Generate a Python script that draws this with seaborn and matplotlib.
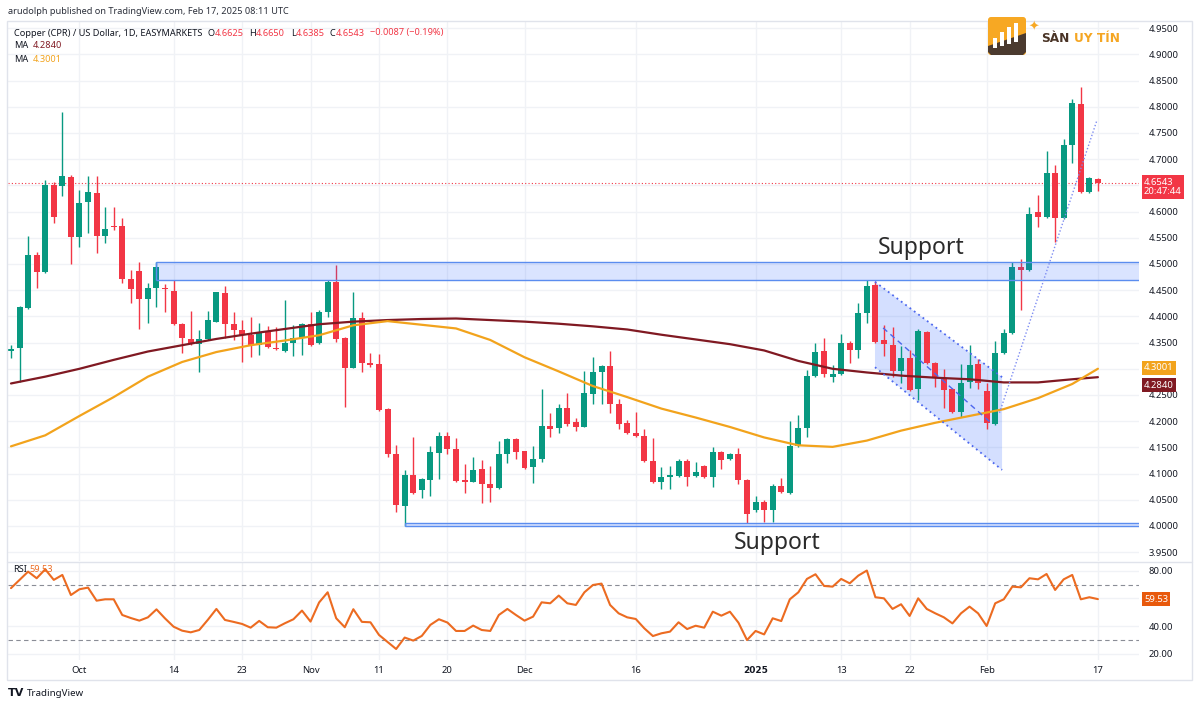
import numpy as np
import pandas as pd
import matplotlib
matplotlib.use("Agg")
import matplotlib.pyplot as plt
import matplotlib.transforms as mtransforms
from matplotlib.patches import Rectangle, Polygon, FancyBboxPatch
import seaborn as sns

## data (daily candles, index 0 = first visible bar)
opens = [4.334, 4.340, 4.416, 4.517, 4.485, 4.651, 4.649, 4.666, 4.552, 4.618,
         4.635, 4.553, 4.573, 4.573, 4.471, 4.487, 4.433, 4.454, 4.454, 4.448,
         4.385, 4.357, 4.347, 4.357, 4.389, 4.445, 4.385, 4.374, 4.364, 4.345,
         4.370, 4.340, 4.334, 4.349, 4.359, 4.385, 4.349, 4.408, 4.466, 4.359,
         4.302, 4.397, 4.311, 4.309, 4.223, 4.137, 4.038, 4.097, 4.069, 4.088,
         4.139, 4.172, 4.147, 4.088, 4.084, 4.109, 4.080, 4.073, 4.137, 4.166,
         4.143, 4.113, 4.128, 4.191, 4.187, 4.225, 4.198, 4.189, 4.252, 4.294,
         4.305, 4.233, 4.197, 4.177, 4.172, 4.124, 4.084, 4.094, 4.095, 4.124,
         4.095, 4.115, 4.094, 4.141, 4.128, 4.137, 4.088, 4.031, 4.046, 4.031,
         4.076, 4.063, 4.153, 4.187, 4.286, 4.334, 4.284, 4.290, 4.349, 4.336,
         4.406, 4.460, 4.355, 4.345, 4.296, 4.321, 4.261, 4.370, 4.311, 4.282,
         4.261, 4.218, 4.275, 4.309, 4.258, 4.195, 4.330, 4.368, 4.494, 4.489,
         4.599, 4.590, 4.674, 4.588, 4.727, 4.805, 4.637, 4.6625]
highs = [4.345, 4.420, 4.553, 4.523, 4.660, 4.656, 4.790, 4.670, 4.641, 4.668,
         4.668, 4.609, 4.609, 4.588, 4.489, 4.504, 4.464, 4.504, 4.462, 4.469,
         4.387, 4.410, 4.374, 4.410, 4.447, 4.458, 4.408, 4.393, 4.399, 4.387,
         4.382, 4.380, 4.431, 4.384, 4.387, 4.408, 4.412, 4.469, 4.498, 4.361,
         4.447, 4.408, 4.330, 4.328, 4.225, 4.155, 4.107, 4.170, 4.092, 4.153,
         4.179, 4.179, 4.168, 4.118, 4.132, 4.126, 4.115, 4.162, 4.168, 4.168,
         4.143, 4.153, 4.261, 4.216, 4.233, 4.254, 4.206, 4.296, 4.323, 4.307,
         4.334, 4.242, 4.202, 4.218, 4.185, 4.168, 4.113, 4.115, 4.128, 4.128,
         4.122, 4.117, 4.151, 4.143, 4.139, 4.149, 4.090, 4.057, 4.050, 4.080,
         4.092, 4.200, 4.212, 4.298, 4.349, 4.359, 4.307, 4.366, 4.353, 4.426,
         4.469, 4.467, 4.384, 4.380, 4.343, 4.336, 4.376, 4.372, 4.313, 4.300,
         4.263, 4.309, 4.345, 4.319, 4.273, 4.353, 4.376, 4.504, 4.510, 4.609,
         4.632, 4.716, 4.689, 4.739, 4.815, 4.838, 4.666, 4.6650]
lows = [4.320, 4.275, 4.414, 4.454, 4.483, 4.578, 4.630, 4.500, 4.533, 4.559,
        4.521, 4.540, 4.565, 4.464, 4.425, 4.376, 4.387, 4.418, 4.408, 4.383,
        4.330, 4.345, 4.294, 4.355, 4.389, 4.359, 4.355, 4.313, 4.323, 4.326,
        4.340, 4.336, 4.332, 4.324, 4.326, 4.344, 4.347, 4.399, 4.351, 4.227,
        4.301, 4.294, 4.303, 4.219, 4.132, 4.027, 4.000, 4.061, 4.053, 4.057,
        4.090, 4.137, 4.084, 4.063, 4.084, 4.044, 4.046, 4.071, 4.120, 4.128,
        4.109, 4.082, 4.122, 4.170, 4.177, 4.191, 4.181, 4.189, 4.233, 4.233,
        4.216, 4.185, 4.175, 4.170, 4.122, 4.082, 4.071, 4.071, 4.093, 4.076,
        4.093, 4.092, 4.074, 4.109, 4.126, 4.080, 4.006, 4.027, 4.008, 4.008,
        4.063, 4.061, 4.151, 4.170, 4.284, 4.284, 4.275, 4.288, 4.311, 4.321,
        4.387, 4.349, 4.324, 4.284, 4.273, 4.258, 4.240, 4.309, 4.265, 4.225,
        4.216, 4.208, 4.263, 4.261, 4.185, 4.193, 4.328, 4.366, 4.412, 4.487,
        4.571, 4.588, 4.542, 4.586, 4.693, 4.635, 4.635, 4.6385]
closes = [4.338, 4.418, 4.517, 4.485, 4.651, 4.590, 4.668, 4.552, 4.616, 4.637,
          4.553, 4.567, 4.571, 4.471, 4.452, 4.433, 4.454, 4.494, 4.452, 4.385,
          4.359, 4.347, 4.357, 4.393, 4.447, 4.385, 4.374, 4.364, 4.345, 4.370,
          4.342, 4.338, 4.349, 4.359, 4.385, 4.345, 4.408, 4.466, 4.357, 4.302,
          4.397, 4.311, 4.307, 4.221, 4.137, 4.040, 4.097, 4.063, 4.090, 4.141,
          4.172, 4.147, 4.086, 4.084, 4.107, 4.080, 4.073, 4.137, 4.166, 4.141,
          4.111, 4.128, 4.191, 4.185, 4.225, 4.195, 4.189, 4.254, 4.294, 4.305,
          4.233, 4.195, 4.177, 4.172, 4.124, 4.084, 4.094, 4.097, 4.124, 4.094,
          4.103, 4.094, 4.141, 4.126, 4.137, 4.088, 4.023, 4.046, 4.031, 4.076,
          4.065, 4.153, 4.187, 4.286, 4.332, 4.290, 4.290, 4.349, 4.336, 4.406,
          4.458, 4.351, 4.347, 4.296, 4.321, 4.260, 4.372, 4.311, 4.282, 4.260,
          4.218, 4.273, 4.307, 4.273, 4.197, 4.330, 4.368, 4.494, 4.489, 4.595,
          4.590, 4.674, 4.588, 4.727, 4.807, 4.637, 4.664, 4.6543]

rsi = [67.5, 73.5, 79.5, 74.7, 81.2, 73.5, 77.1, 62.5, 66.7, 67.9,
       58.4, 59.4, 59.4, 48.0, 45.8, 43.9, 46.3, 52.1, 45.5, 39.5,
       36.6, 35.4, 37.1, 44.5, 52.4, 44.4, 43.0, 41.5, 38.8, 43.7,
       39.1, 38.8, 42.0, 44.9, 51.2, 43.2, 57.1, 64.5, 45.6, 39.1,
       52.2, 43.0, 42.7, 33.5, 28.4, 23.3, 31.6, 29.4, 32.8, 40.8,
       44.9, 42.5, 36.4, 36.4, 40.3, 37.1, 36.4, 48.0, 52.4, 48.0,
       43.9, 46.8, 57.2, 56.5, 62.1, 56.5, 55.3, 64.5, 69.8, 70.8,
       55.3, 49.2, 46.3, 45.1, 38.3, 32.7, 34.7, 35.9, 42.7, 37.8,
       40.2, 38.8, 50.4, 47.5, 50.4, 42.4, 29.8, 36.4, 33.9, 45.6,
       43.6, 59.4, 64.5, 74.2, 77.6, 69.1, 68.6, 74.2, 71.0, 76.6,
       80.3, 60.9, 60.1, 52.4, 55.8, 47.3, 60.1, 52.4, 49.2, 46.3,
       41.9, 49.2, 54.1, 49.2, 40.0, 56.5, 59.4, 68.6, 68.1, 74.7,
       73.9, 77.8, 66.2, 73.9, 77.1, 59.4, 60.9, 59.53]

# moving averages, read every 4th bar
ma_idx = [0, 4, 8, 12, 16, 20, 24, 28, 32, 36, 40, 44, 48, 52, 56, 60, 64,
          68, 72, 76, 80, 84, 88, 92, 96, 100, 104, 108, 112, 116, 120, 124, 127]
ma_slow = [4.272, 4.285, 4.300, 4.317, 4.333, 4.345, 4.357, 4.367, 4.376, 4.385,
           4.390, 4.393, 4.395, 4.396, 4.393, 4.390, 4.386, 4.381, 4.375, 4.365,
           4.356, 4.347, 4.335, 4.315, 4.300, 4.293, 4.287, 4.283, 4.280, 4.274,
           4.274, 4.280, 4.2840]
ma_fast = [4.152, 4.173, 4.210, 4.246, 4.285, 4.313, 4.332, 4.345, 4.354, 4.364,
           4.383, 4.391, 4.384, 4.377, 4.355, 4.322, 4.295, 4.267, 4.246, 4.224,
           4.207, 4.189, 4.169, 4.154, 4.151, 4.163, 4.182, 4.197, 4.210, 4.223,
           4.244, 4.271, 4.3001]

tick_pos = [8, 19, 27, 35, 43, 51, 60, 73, 87, 97, 105, 114, 127]
tick_labels = ["Oct", "14", "23", "Nov", "11", "20", "Dec", "16", "2025", "13", "22", "Feb", "17"]
price_ticks = [3.95, 4.00, 4.05, 4.10, 4.15, 4.20, 4.25, 4.30, 4.35, 4.40, 4.45,
               4.50, 4.55, 4.60, 4.65, 4.70, 4.75, 4.80, 4.85, 4.90, 4.95]
price_hidden = [4.30, 4.65]
rsi_ticks = [20, 40, 60, 80]
rsi_hidden = [60]

# drawings
upper_zone = [17, 4.469, 4.504]      # start bar, bottom, top
lower_zone = [46, 4.000, 4.006]
channel_x = [100.95, 115.8]
channel_top = [4.466, 4.284]
channel_bottom = [4.303, 4.107]
channel_mid_x = [101.9, 114.5]
channel_mid = [4.378, 4.197]
trend_x = [115.5, 126.9]
trend_y = [4.216, 4.775]
support_labels = [(106.4, 4.531), (89.5, 3.968)]

GREEN = "#089981"
RED = "#f23645"
SLOW_C = "#801922"
FAST_C = "#f2a31c"
RSI_C = "#ec6b21"
TXT = "#131722"
GRID = "#f0f2f6"
BLUE = "#2962ff"

sns.set_theme(style="white")
plt.rcParams["font.family"] = ["Noto Sans", "DejaVu Sans"]

W, H = 1200, 708
fig = plt.figure(figsize=(W / 100, H / 100), dpi=100)
px = mtransforms.Affine2D().scale(1 / W, -1 / H).translate(0, 1) + fig.transFigure

L, R = 8, 1139
ax = fig.add_axes([L / W, 1 - 561 / H, (R - L) / W, (561 - 22) / H])
ax_rsi = fig.add_axes([L / W, 1 - 660 / H, (R - L) / W, (660 - 562) / H], sharex=ax)

df = pd.DataFrame({"open": opens, "high": highs, "low": lows, "close": closes})
df["i"] = np.arange(len(df))
colors = np.where(df["close"] >= df["open"], GREEN, RED)

##candles
ax.vlines(df["i"], df["low"], df["high"], colors=colors, linewidth=1.0, zorder=3)
body = (df["close"] - df["open"]).abs().clip(lower=0.0018)
ax.bar(df["i"], body, bottom=df[["open", "close"]].min(axis=1), width=0.7,
       color=colors, linewidth=0, zorder=4)

sns.lineplot(x=ma_idx, y=ma_slow, ax=ax, color=SLOW_C, linewidth=1.6, zorder=5)
sns.lineplot(x=ma_idx, y=ma_fast, ax=ax, color=FAST_C, linewidth=1.6, zorder=5)

xmin, xmax = -0.35, 131.8
ax.set_xlim(xmin, xmax)
ax.set_ylim(3.9332, 4.9618)

# zones
for start, lo, hi in [upper_zone, lower_zone]:
    ax.add_patch(Rectangle((start, lo), xmax - start + 1, hi - lo, facecolor=BLUE,
                           alpha=0.17, edgecolor="none", zorder=6))
    ax.hlines([lo, hi], start, xmax + 1, color="#5b8def", linewidth=1.0, zorder=6)
    ax.vlines(start, lo, hi, color="#5b8def", linewidth=1.0, zorder=6)

# falling channel
ax.add_patch(Polygon([(channel_x[0], channel_top[0]), (channel_x[1], channel_top[1]),
                      (channel_x[1], channel_bottom[1]), (channel_x[0], channel_bottom[0])],
                     closed=True, facecolor=BLUE, alpha=0.2, edgecolor="none", zorder=2))
ax.plot(channel_x, channel_top, color="#4c67ee", linewidth=1.3, linestyle=(0, (1, 2)), zorder=6)
ax.plot(channel_x, channel_bottom, color="#4c67ee", linewidth=1.3, linestyle=(0, (1, 2)), zorder=6)
ax.plot(channel_mid_x, channel_mid, color="#4c67ee", linewidth=1.0, linestyle=(0, (4, 3)), zorder=6)
ax.plot(trend_x, trend_y, color="#7d8cf2", linewidth=1.0, linestyle=(0, (1, 1.5)), zorder=6)

ax.axhline(closes[-1], color=RED, linewidth=0.8, linestyle=(0, (1, 2)), zorder=2)

for x, y in support_labels:
    ax.text(x, y, "Support", fontsize=16.5, color="#2b2b2b", ha="center", va="center", zorder=7)

# axes styling
for a in (ax, ax_rsi):
    for s in a.spines.values():
        s.set_visible(False)
    a.yaxis.tick_right()
    a.tick_params(axis="both", length=0, labelsize=6.8, labelcolor=TXT, pad=7)
    a.set_xticks(tick_pos)
    a.grid(True, color=GRID, linewidth=1.0)
    a.set_axisbelow(True)

ax.set_yticks(price_ticks)
ax.set_yticklabels(["" if t in price_hidden else f"{t:.4f}" for t in price_ticks])
ax.tick_params(axis="x", labelbottom=False)

##RSI panel
sns.lineplot(x=df["i"], y=rsi, ax=ax_rsi, color=RSI_C, linewidth=1.5, zorder=4)
ax_rsi.set_ylim(15.3, 86.5)
ax_rsi.axhline(70, color="#8a8d96", linewidth=0.8, linestyle=(0, (4, 3)), zorder=3)
ax_rsi.axhline(30, color="#8a8d96", linewidth=0.8, linestyle=(0, (4, 3)), zorder=3)
ax_rsi.set_yticks(rsi_ticks)
ax_rsi.set_yticklabels(["" if t in rsi_hidden else f"{t:.2f}" for t in rsi_ticks])
ax_rsi.set_xticklabels(tick_labels)
ax_rsi.tick_params(axis="x", pad=4)
for lab in ax_rsi.get_xticklabels():
    if lab.get_text() == "2025":
        lab.set_fontweight("bold")
        lab.set_family("DejaVu Sans")
        lab.set_fontsize(6.5)
for a in (ax, ax_rsi):
    a.set_xlabel("")
    a.set_ylabel("")

# value tags on the right scale
def tag(a, y, text, color, dy=0):
    a.annotate(text, xy=(1, y), xycoords=("axes fraction", "data"), xytext=(5, dy),
               textcoords="offset pixels", ha="left", va="center", fontsize=6.8,
               color="white", linespacing=1.1, annotation_clip=False,
               bbox=dict(boxstyle="square,pad=0.25", fc=color, ec="none"))

tag(ax, closes[-1], f"{closes[-1]:.4f}\n20:47:44", RED, dy=-4)
tag(ax, ma_fast[-1], f"{ma_fast[-1]:.4f}", FAST_C, dy=1)
tag(ax, ma_slow[-1], f"{ma_slow[-1]:.4f}", SLOW_C, dy=-8)
tag(ax_rsi, rsi[-1], f"{rsi[-1]:.2f}", "#e8590c")

# frame and panel divider
fig.add_artist(Rectangle((7, 21), 1185, 659, transform=px, fill=False,
                         edgecolor="#e0e3eb", linewidth=1.0))
fig.add_artist(plt.Line2D([7, 1192], [561.5, 561.5], transform=px, color="#e0e3eb", linewidth=1.0))

# header texts, coloured pieces chained one after another
def chain(owner, pieces, x, y, size=6.6):
    t = owner.text(x, y, pieces[0][0], color=pieces[0][1], fontsize=size, va="center",
                   transform=px, clip_on=False)
    for s, c, gap in pieces[1:]:
        t = owner.annotate(s, xy=(1, 0.5), xycoords=t, xytext=(gap, 0), textcoords="offset points",
                           color=c, fontsize=size, va="center", ha="left", annotation_clip=False)
    return t

fig.text(8, 12, "arudolph published on TradingView.com, Feb 17, 2025 08:11 UTC",
         transform=px, fontsize=6.6, color="#2a2e39", va="center")
chain(ax, [("Copper (CPR) / US Dollar, 1D, EASYMARKETS", TXT),
           ("O", TXT, 4), ("4.6625", RED, 0), ("H", TXT, 4), ("4.6650", RED, 0),
           ("L", TXT, 4), ("4.6385", RED, 0), ("C", TXT, 4), ("4.6543", RED, 0),
           ("\u22120.0087 (\u22120.19%)", RED, 4)], 14, 33)
chain(ax, [("MA", TXT), (f"{ma_slow[-1]:.4f}", SLOW_C, 3)], 14, 46)
chain(ax, [("MA", TXT), (f"{ma_fast[-1]:.4f}", FAST_C, 3)], 14, 60)
chain(ax_rsi, [("RSI", TXT), (f"{rsi[-1]:.2f}", RSI_C, 2)], 13, 570)

# SAN UY TIN logo
fig.add_artist(FancyBboxPatch((988, 17), 38, 38, boxstyle="round,pad=0,rounding_size=3",
                              transform=px, facecolor="#f7a823", edgecolor="none"))
fig.add_artist(Polygon([(988, 46), (1026, 33), (1026, 52), (1023, 55), (991, 55), (988, 52)],
                       closed=True, transform=px, facecolor="#4b3a2f", edgecolor="none"))
for bx, top in [(993, 38), (1000, 32), (1007, 27), (1014, 23)]:
    fig.add_artist(Rectangle((bx, top), 4, 42 - top + (1014 - bx) * 0.3, transform=px,
                             facecolor="white", edgecolor="none"))
fig.text(1034, 27, "\u2726", transform=px, fontsize=9, color="#f7a823",
         ha="center", va="center", family="DejaVu Sans")
t = fig.text(1041, 38, "S\u00c0N", transform=px, fontsize=8.7, fontweight="bold",
             color="#4a3426", va="center", family="DejaVu Sans")
ax.annotate("UY T\u00cdN", xy=(1, 0.5), xycoords=t, xytext=(3, 0), textcoords="offset points",
            fontsize=8.7, fontweight="bold", color="#f5a623", va="center",
            family="DejaVu Sans", annotation_clip=False)

# TradingView footer
fig.text(8, 693, "TV", transform=px, fontsize=8, fontweight="heavy", color=TXT,
         va="center", family="DejaVu Sans")
fig.text(27, 693, "TradingView", transform=px, fontsize=7, color=TXT, va="center")

fig.savefig("out.png", dpi=100, facecolor="white")
